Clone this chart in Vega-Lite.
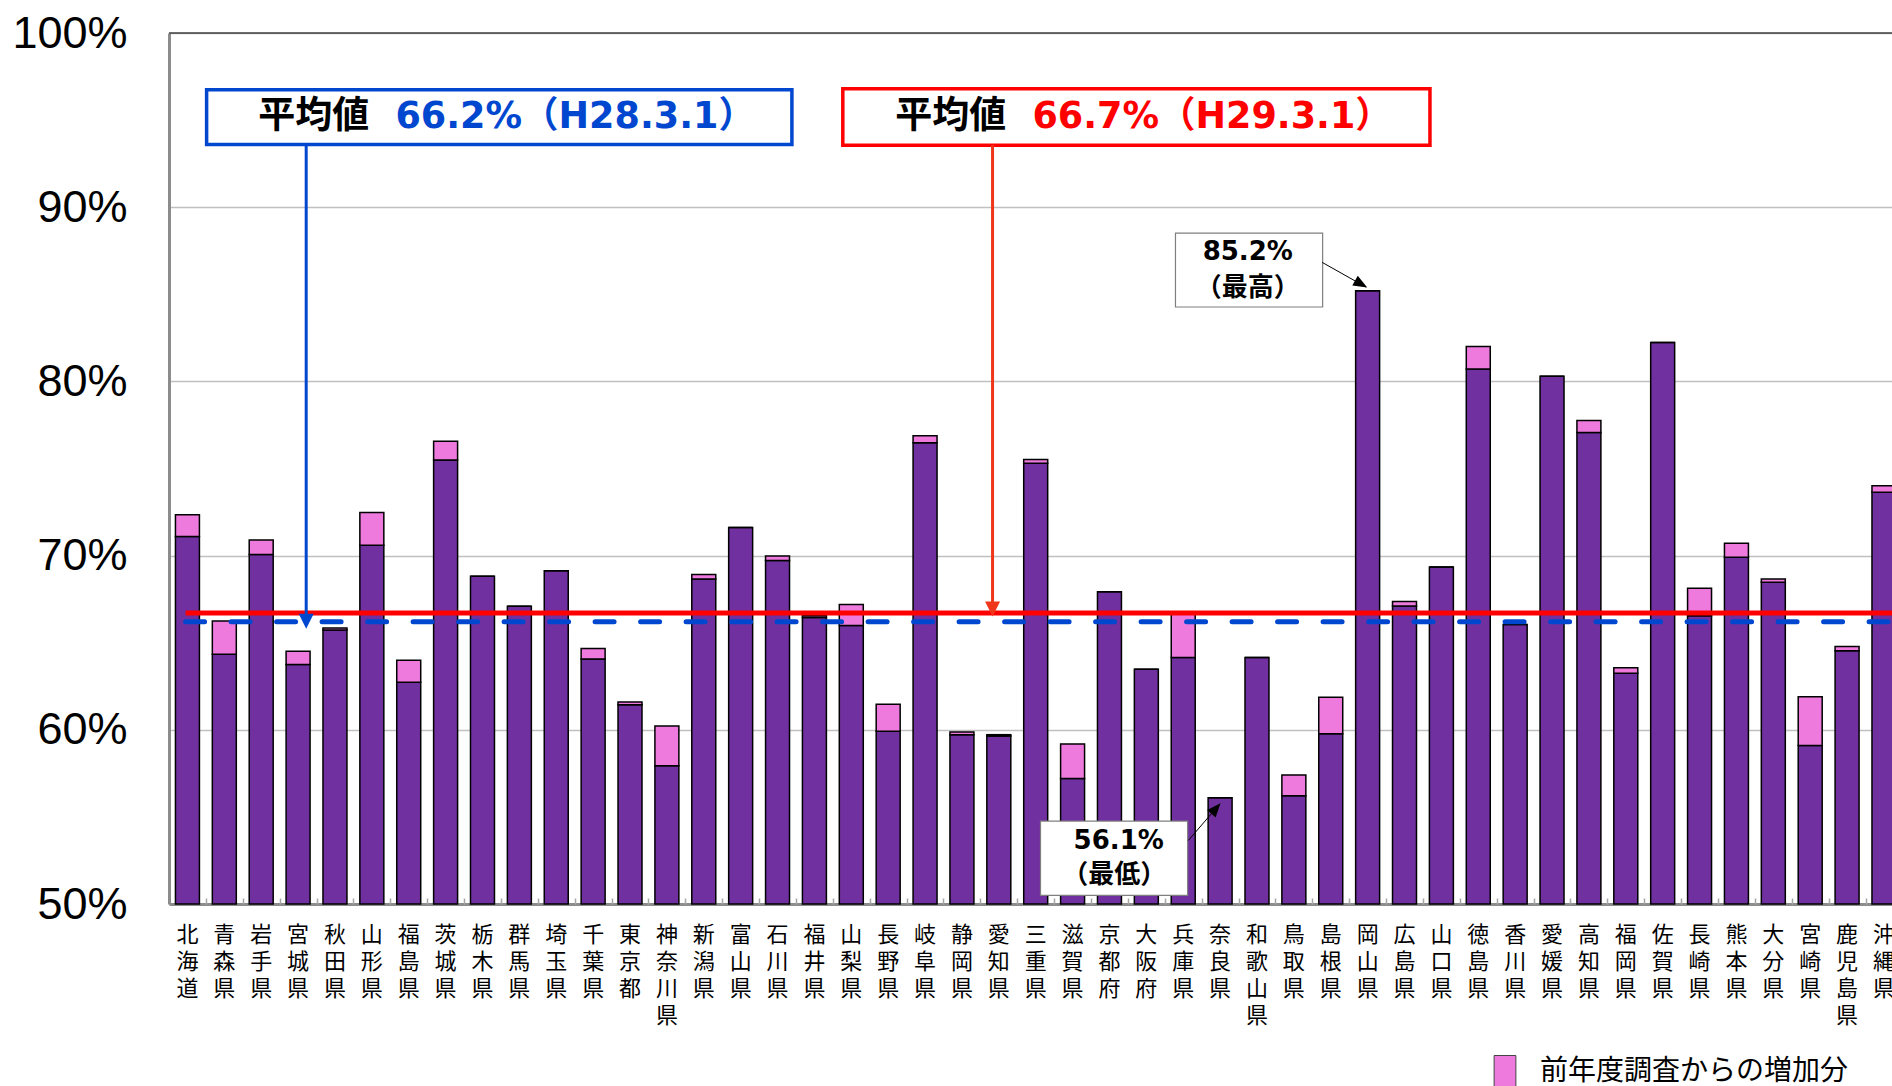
{
  "$schema": "https://vega.github.io/schema/vega-lite/v6.json",
  "width": 1723,
  "height": 871,
  "autosize": {"type": "none"},
  "padding": {"left": 169, "top": 33, "right": 0, "bottom": 182},
  "background": "white",
  "config": {
    "view": {"stroke": null},
    "axisY": {
      "labelExpr": "datum.value + '%'",
      "labelFont": "Liberation Sans", "labelFontSize": 45, "labelColor": "#000",
      "labelPadding": 42, "ticks": false, "domainColor": "#8c8c8c", "domainWidth": 3,
      "grid": true, "gridColor": "#c0c0c0", "gridWidth": 1.5, "title": null
    }
  },
  "datasets": {
    "prefs": [
      {"pref": "北海道", "base": 71.1, "total": 72.35},
      {"pref": "青森県", "base": 64.33, "total": 66.25},
      {"pref": "岩手県", "base": 70.06, "total": 70.89},
      {"pref": "宮城県", "base": 63.75, "total": 64.51},
      {"pref": "秋田県", "base": 65.73, "total": 65.85},
      {"pref": "山形県", "base": 70.59, "total": 72.47},
      {"pref": "福島県", "base": 62.73, "total": 63.99},
      {"pref": "茨城県", "base": 75.49, "total": 76.56},
      {"pref": "栃木県", "base": 68.81, "total": 68.81},
      {"pref": "群馬県", "base": 67.09, "total": 67.09},
      {"pref": "埼玉県", "base": 69.13, "total": 69.13},
      {"pref": "千葉県", "base": 64.07, "total": 64.66},
      {"pref": "東京都", "base": 61.44, "total": 61.6},
      {"pref": "神奈川県", "base": 57.94, "total": 60.22},
      {"pref": "新潟県", "base": 68.66, "total": 68.91},
      {"pref": "富山県", "base": 71.62, "total": 71.62},
      {"pref": "石川県", "base": 69.72, "total": 69.98},
      {"pref": "福井県", "base": 66.44, "total": 66.54},
      {"pref": "山梨県", "base": 65.99, "total": 67.19},
      {"pref": "長野県", "base": 59.92, "total": 61.46},
      {"pref": "岐阜県", "base": 76.48, "total": 76.88},
      {"pref": "静岡県", "base": 59.72, "total": 59.88},
      {"pref": "愛知県", "base": 59.64, "total": 59.72},
      {"pref": "三重県", "base": 75.3, "total": 75.51},
      {"pref": "滋賀県", "base": 57.21, "total": 59.19},
      {"pref": "京都府", "base": 67.92, "total": 67.92},
      {"pref": "大阪府", "base": 63.48, "total": 63.48},
      {"pref": "兵庫県", "base": 64.15, "total": 66.75},
      {"pref": "奈良県", "base": 56.1, "total": 56.1},
      {"pref": "和歌山県", "base": 64.15, "total": 64.15},
      {"pref": "鳥取県", "base": 56.22, "total": 57.41},
      {"pref": "島根県", "base": 59.77, "total": 61.87},
      {"pref": "岡山県", "base": 85.2, "total": 85.2},
      {"pref": "広島県", "base": 67.1, "total": 67.36},
      {"pref": "山口県", "base": 69.34, "total": 69.34},
      {"pref": "徳島県", "base": 80.71, "total": 82.0},
      {"pref": "香川県", "base": 66.04, "total": 66.04},
      {"pref": "愛媛県", "base": 80.29, "total": 80.29},
      {"pref": "高知県", "base": 77.07, "total": 77.76},
      {"pref": "福岡県", "base": 63.25, "total": 63.56},
      {"pref": "佐賀県", "base": 82.24, "total": 82.24},
      {"pref": "長崎県", "base": 66.54, "total": 68.13},
      {"pref": "熊本県", "base": 69.9, "total": 70.71},
      {"pref": "大分県", "base": 68.47, "total": 68.65},
      {"pref": "宮崎県", "base": 59.1, "total": 61.9},
      {"pref": "鹿児島県", "base": 64.54, "total": 64.78},
      {"pref": "沖縄県", "base": 73.64, "total": 74.01}
    ]
  },
  "layer": [
    {
      "data": {"name": "prefs"},
      "encoding": {
        "x": {
          "field": "pref", "type": "nominal", "sort": null,
          "scale": {"type": "band", "paddingInner": 0.35, "paddingOuter": 0.175, "range": [0, 1733.4]},
          "axis": {
            "title": null, "labelAngle": 0, "labelExpr": "split(datum.label, '')",
            "labelFont": "Noto Sans CJK JP", "labelFontSize": 22, "labelLineHeight": 27,
            "labelBaseline": "top", "labelPadding": 20, "labelColor": "#000", "labelLimit": 0,
            "labelOverlap": false, "ticks": false, "domainColor": "#8c8c8c", "domainWidth": 3
          }
        }
      },
      "layer": [
        {
          "mark": {"type": "bar", "fill": "#7030A0", "stroke": "#000", "strokeWidth": 1.5},
          "encoding": {
            "y": {
              "field": "base", "type": "quantitative",
              "scale": {"domain": [50, 100], "nice": false, "zero": false},
              "axis": {"title": null, "values": [50, 60, 70, 80, 90, 100]}
            },
            "y2": {"datum": 50}
          }
        },
        {
          "mark": {"type": "bar", "stroke": "#000", "strokeWidth": 1.5},
          "encoding": {
            "y": {"field": "total", "type": "quantitative", "scale": {"domain": [50, 100], "nice": false, "zero": false}, "axis": {"title": null, "values": [50, 60, 70, 80, 90, 100]}},
            "y2": {"field": "base"},
            "fill": {
              "datum": "前年度調査からの増加分", "type": "nominal",
              "scale": {"range": ["#EE7ADE"]},
              "legend": {
                "title": null, "orient": "none", "legendX": 1319, "legendY": 1022,
                "symbolType": "M-0.66,-1L0.66,-1L0.66,1L-0.66,1Z", "symbolSize": 1089,
                "symbolStrokeColor": "#444", "symbolStrokeWidth": 1, "symbolOpacity": 1,
                "labelFont": "Noto Sans CJK JP", "labelFontSize": 28, "labelColor": "#000",
                "labelOffset": 18, "labelLimit": 0, "padding": 0, "offset": 0,
                "encode": {"symbols": {"update": {"fill": {"value": "#FF66FF"}, "stroke": {"value": "#444"}}}}
              }
            }
          }
        }
      ]
    },
    {
      "encoding": {
        "x": {
          "field": "u", "type": "quantitative",
          "scale": {"domain": [0, 47], "range": [0, 1733.4], "nice": false, "zero": false},
          "axis": {
            "orient": "top", "offset": -871, "values": [1,2,3,4,5,6,7,8,9,10,11,12,13,14,15,16,17,18,19,20,21,22,23,24,25,26,27,28,29,30,31,32,33,34,35,36,37,38,39,40,41,42,43,44,45,46],
            "labels": false, "domain": false, "grid": false, "ticks": true, "tickSize": 6,
            "tickColor": "#a6a6a6", "tickWidth": 1.5, "title": null
          }
        },
        "y": {"field": "v", "type": "quantitative", "scale": {"domain": [50, 100], "nice": false, "zero": false}, "axis": {"title": null, "values": [50, 60, 70, 80, 90, 100]}}
      },
      "layer": [
        {
          "data": {"values": [{"u": 0.45, "u2": 47, "v": 66.2}]},
          "mark": {"type": "rule", "stroke": "#0047D0", "strokeWidth": 5, "strokeDash": [19, 26.5], "strokeCap": "round"},
          "encoding": {"x2": {"field": "u2"}}
        },
        {
          "data": {"values": [{"u": 0.45, "u2": 47, "v": 66.7}]},
          "mark": {"type": "rule", "stroke": "#FF0000", "strokeWidth": 5},
          "encoding": {"x2": {"field": "u2"}}
        },
        {
          "data": {"values": [{"u": 0, "u2": 47, "v": 100}]},
          "mark": {"type": "rule", "stroke": "#404040", "strokeWidth": 1.5},
          "encoding": {"x2": {"field": "u2"}}
        },
        {
          "data": {"values": [{"u": 1.02, "u2": 16.89, "v": 96.74, "v2": 93.6}]},
          "mark": {"type": "rect", "fill": "#ffffff", "stroke": "#0047D0", "strokeWidth": 3.5},
          "encoding": {"x2": {"field": "u2"}, "y2": {"field": "v2"}}
        },
        {
          "data": {"values": [{"u": 18.27, "u2": 34.19, "v": 96.8, "v2": 93.55}]},
          "mark": {"type": "rect", "fill": "#ffffff", "stroke": "#FF0000", "strokeWidth": 3.5},
          "encoding": {"x2": {"field": "u2"}, "y2": {"field": "v2"}}
        },
        {
          "data": {"values": [{"u": 3.72, "v": 93.6, "v2": 66.6}]},
          "mark": {"type": "rule", "stroke": "#0047D0", "strokeWidth": 3},
          "encoding": {"y2": {"field": "v2"}}
        },
        {
          "data": {"values": [{"u": 3.72, "v": 65.8}]},
          "mark": {"type": "point", "shape": "M-1,-2L1,-2L0,0Z", "size": 225, "filled": true, "fill": "#0047D0", "opacity": 1, "strokeWidth": 0}
        },
        {
          "data": {"values": [{"u": 22.33, "v": 93.55, "v2": 67.3}]},
          "mark": {"type": "rule", "stroke": "#F0361A", "strokeWidth": 3},
          "encoding": {"y2": {"field": "v2"}}
        },
        {
          "data": {"values": [{"u": 22.33, "v": 66.5}]},
          "mark": {"type": "point", "shape": "M-1,-2L1,-2L0,0Z", "size": 225, "filled": true, "fill": "#F0361A", "opacity": 1, "strokeWidth": 0}
        },
        {
          "data": {"values": [{"t": "平均値", "u": 2.42, "v": 95.17}, {"t": "平均値", "u": 19.69, "v": 95.17}]},
          "mark": {"type": "text", "font": "Noto Sans CJK JP", "fontWeight": "bold", "fontSize": 37, "align": "left", "baseline": "middle", "fill": "#000"},
          "encoding": {"text": {"field": "t"}}
        },
        {
          "data": {"values": [{"t": "66.2%（H28.3.1）", "u": 6.14, "v": 95.17}]},
          "mark": {"type": "text", "font": "DejaVu Sans, Noto Sans CJK JP", "fontWeight": "bold", "fontSize": 36.5, "align": "left", "baseline": "middle", "fill": "#0047D0"},
          "encoding": {"text": {"field": "t"}}
        },
        {
          "data": {"values": [{"t": "66.7%（H29.3.1）", "u": 23.41, "v": 95.17}]},
          "mark": {"type": "text", "font": "DejaVu Sans, Noto Sans CJK JP", "fontWeight": "bold", "fontSize": 36.5, "align": "left", "baseline": "middle", "fill": "#FF0000"},
          "encoding": {"text": {"field": "t"}}
        },
        {
          "data": {"values": [{"u": 27.29, "u2": 31.28, "v": 88.51, "v2": 84.27}, {"u": 23.63, "u2": 27.62, "v": 54.76, "v2": 50.49}]},
          "mark": {"type": "rect", "fill": "#ffffff", "stroke": "#7f7f7f", "strokeWidth": 1.2},
          "encoding": {"x2": {"field": "u2"}, "y2": {"field": "v2"}}
        },
        {
          "data": {"values": [{"t": "85.2%", "u": 29.25, "v": 87.4}, {"t": "56.1%", "u": 25.75, "v": 53.6}]},
          "mark": {"type": "text", "font": "DejaVu Sans", "fontWeight": "bold", "fontSize": 26, "align": "center", "baseline": "middle", "fill": "#000"},
          "encoding": {"text": {"field": "t"}}
        },
        {
          "data": {"values": [{"t": "（最高）", "u": 29.25, "v": 85.35}, {"t": "（最低）", "u": 25.63, "v": 51.69}]},
          "mark": {"type": "text", "font": "Noto Sans CJK JP", "fontWeight": "bold", "fontSize": 26, "align": "center", "baseline": "middle", "fill": "#000"},
          "encoding": {"text": {"field": "t"}}
        },
        {
          "data": {"values": [{"u": 31.27, "u2": 32.45, "v": 86.83, "v2": 85.42}, {"u": 27.64, "u2": 28.5, "v": 53.65, "v2": 55.76}]},
          "mark": {"type": "rule", "stroke": "#000", "strokeWidth": 1},
          "encoding": {"x2": {"field": "u2"}, "y2": {"field": "v2"}}
        },
        {
          "data": {"values": [{"u": 32.49, "v": 85.39}]},
          "mark": {"type": "point", "shape": "M-0.8,-2L0.8,-2L0,0Z", "size": 196, "angle": 299.2, "filled": true, "fill": "#000", "opacity": 1, "strokeWidth": 0}
        },
        {
          "data": {"values": [{"u": 28.51, "v": 55.79}]},
          "mark": {"type": "point", "shape": "M-0.8,-2L0.8,-2L0,0Z", "size": 196, "angle": 220.6, "filled": true, "fill": "#000", "opacity": 1, "strokeWidth": 0}
        }
      ]
    }
  ],
  "resolve": {"scale": {"x": "independent"}}
}
